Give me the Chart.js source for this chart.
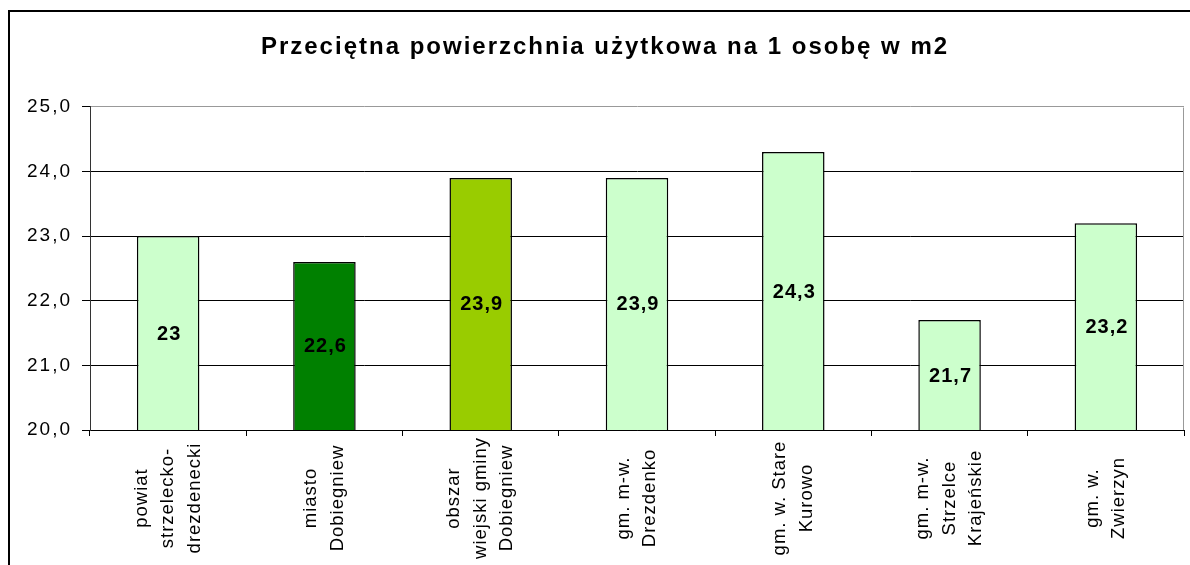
<!DOCTYPE html>
<html><head><meta charset="utf-8">
<script src="https://cdn.jsdelivr.net/npm/chart.js@4"></script>
<style>
html,body{margin:0;padding:0;background:#fff;}
#wrap{position:relative;width:1190px;height:565px;overflow:hidden;background:#fff;}
#frame{position:absolute;left:8px;top:10px;width:1300px;height:700px;border-left:2px solid #000;border-top:2px solid #000;pointer-events:none;}
canvas{position:absolute;left:0;top:0;}
</style></head><body>
<div id="wrap"><canvas id="c" width="1190" height="565"></canvas><div id="frame"></div></div>
<script>
const chartTitle = 'Przeciętna powierzchnia użytkowa na 1 osobę w m2';
const categories = [
  ['powiat','strzelecko-','drezdenecki'],
  ['miasto','Dobiegniew'],
  ['obszar','wiejski gminy','Dobiegniew'],
  ['gm. m-w.','Drezdenko'],
  ['gm. w. Stare','Kurowo'],
  ['gm. m-w.','Strzelce','Krajeńskie'],
  ['gm. w.','Zwierzyn']
];
const values = [23, 22.6, 23.9, 23.9, 24.3, 21.7, 23.2];
const barColors = ['#CCFFCC','#008000','#99CC00','#CCFFCC','#CCFFCC','#CCFFCC','#CCFFCC'];
const yMin = 20, yMax = 25, yStep = 1;

const FONT = '"Liberation Sans", Arial, sans-serif';
const fmtTick = v => Number(v).toFixed(1).replace('.', ',');
const fmtVal = v => String(v).replace('.', ',');

const spacingPlugin = {
  id: 'spacing',
  beforeDraw(chart) { chart.ctx.letterSpacing = '2px'; },
  afterDraw(chart) { chart.ctx.letterSpacing = '0px'; }
};

const plotBorder = {
  id: 'plotBorder',
  afterDraw(chart) {
    const {ctx, chartArea: a} = chart;
    ctx.save();
    ctx.strokeStyle = '#999999';
    ctx.lineWidth = 1;
    ctx.beginPath();
    ctx.moveTo(Math.round(a.right) - 0.5, Math.round(a.top) + 0.5);
    ctx.lineTo(Math.round(a.right) - 0.5, Math.round(a.bottom));
    ctx.stroke();
    ctx.restore();
  }
};

const valueLabels = {
  id: 'valueLabels',
  afterDraw(chart) {
    const ctx = chart.ctx;
    const xs = chart.scales.x, ys = chart.scales.y;
    ctx.save();
    ctx.letterSpacing = '1px';
    ctx.font = 'bold 20px ' + FONT;
    ctx.fillStyle = '#000000';
    ctx.textAlign = 'center';
    ctx.textBaseline = 'middle';
    values.forEach((v, i) => {
      const x = xs.getPixelForValue(i);
      const y = ys.getPixelForValue((v + yMin) / 2);
      ctx.fillText(fmtVal(v), x + 1, y + 1);
    });
    ctx.restore();
  }
};

const categoryLabels = {
  id: 'categoryLabels',
  afterDraw(chart) {
    const ctx = chart.ctx;
    const xs = chart.scales.x;
    ctx.save();
    ctx.letterSpacing = '1px';
    ctx.font = '18.5px ' + FONT;
    ctx.fillStyle = '#000';
    ctx.textAlign = 'center';
    ctx.textBaseline = 'middle';
    categories.forEach((lines, i) => {
      const x = xs.getPixelForValue(i);
      const n = lines.length;
      lines.forEach((t, j) => {
        ctx.save();
        ctx.translate(x + (j - (n - 1) / 2) * 26.5, 498);
        ctx.rotate(-Math.PI / 2);
        ctx.fillText(t, 0, 0);
        ctx.restore();
      });
    });
    ctx.restore();
  }
};

new Chart(document.getElementById('c'), {
  type: 'bar',
  data: {
    labels: categories.map(c => c.join(' ')),
    datasets: [{
      data: values,
      backgroundColor: barColors,
      borderColor: '#000',
      borderWidth: 1.5,
      barPercentage: 0.4,
      categoryPercentage: 1
    }]
  },
  options: {
    responsive: false,
    animation: false,
    layout: { padding: { left: 26, right: 6, top: 0, bottom: 0 } },
    plugins: {
      legend: { display: false },
      tooltip: { enabled: false },
      title: {
        display: true,
        text: chartTitle,
        color: '#000',
        font: { family: FONT, size: 24, weight: 'bold' },
        padding: { top: 33, bottom: 45 }
      }
    },
    scales: {
      x: {
        ticks: { display: false },
        grid: { offset: true, drawOnChartArea: false, drawTicks: true, tickLength: 6, color: '#000' },
        border: { color: '#000', width: 1 },
        afterFit(s) { s.height = 135; }
      },
      y: {
        min: yMin, max: yMax,
        ticks: { stepSize: yStep, color: '#000', padding: 10, font: { family: FONT, size: 19 }, callback: v => fmtTick(v) },
        grid: { color: c => (c.tick && c.tick.value === yMax) ? '#999999' : '#000', tickColor: '#000', tickLength: 8, lineWidth: 1 },
        border: { color: '#333', width: 1 },
        afterFit(s) { s.width = 64; }
      }
    }
  },
  plugins: [spacingPlugin, plotBorder, valueLabels, categoryLabels]
});
</script>
</body></html>
